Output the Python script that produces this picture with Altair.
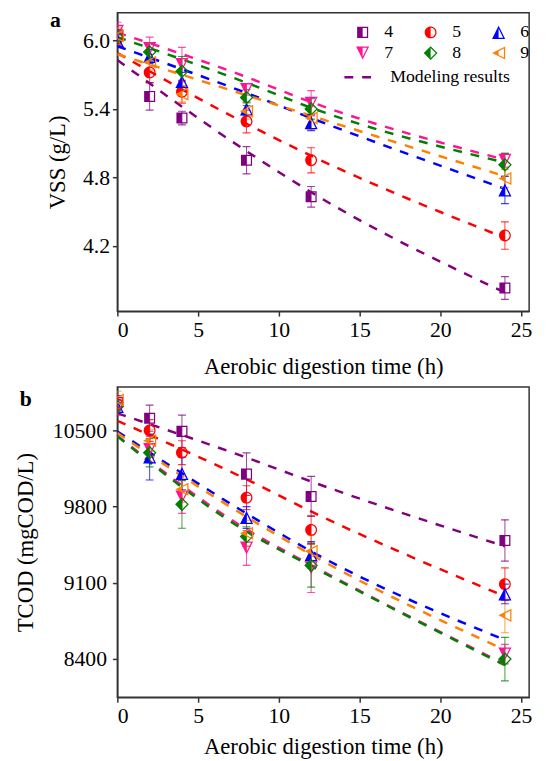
import altair as alt
import pandas as pd

# ---------------- data ----------------
series = ["4", "5", "6", "7", "8", "9"]
colors = ["#800080", "#FF0000", "#0000FF", "#FF1493", "#008000", "#FF8000"]
times = [0, 2, 4, 8, 12, 24]
model_times = [0, 8, 12, 24]

# panel a: VSS (g/L)
vss_4 = [6.05, 5.51, 5.32, 4.95, 4.63, 3.83]
vss_5 = [6.02, 5.72, 5.55, 5.29, 4.95, 4.29]
vss_6 = [6.00, 5.86, 5.64, 5.40, 5.28, 4.69]
vss_7 = [6.08, 5.93, 5.79, 5.57, 5.45, 4.95]
vss_8 = [6.03, 5.90, 5.73, 5.50, 5.40, 4.91]
vss_9 = [6.04, 5.81, 5.53, 5.38, 5.32, 4.79]
vss_err_4 = [0.08, 0.12, 0.06, 0.12, 0.09, 0.10]
vss_err_5 = [0.06, 0.09, 0.10, 0.10, 0.11, 0.12]
vss_err_6 = [0.05, 0.06, 0.08, 0.06, 0.07, 0.12]
vss_err_7 = [0.08, 0.10, 0.15, 0.05, 0.11, 0.06]
vss_err_8 = [0.06, 0.08, 0.13, 0.07, 0.09, 0.10]
vss_err_9 = [0.07, 0.07, 0.07, 0.07, 0.10, 0.08]
vss_model_4 = [5.83, 5.03, 4.67, 3.79]
vss_model_5 = [5.89, 5.27, 4.99, 4.27]
vss_model_6 = [5.95, 5.54, 5.32, 4.70]
vss_model_7 = [6.07, 5.68, 5.46, 4.955]
vss_model_8 = [6.03, 5.63, 5.41, 4.93]
vss_model_9 = [5.88, 5.52, 5.34, 4.81]

# panel b: TCOD (mgCOD/L)
tcod_4 = [10760, 10612, 10491, 10098, 9893, 9488]
tcod_5 = [10740, 10500, 10295, 9881, 9585, 9086]
tcod_6 = [10720, 10255, 10104, 9699, 9358, 8996]
tcod_7 = [10700, 10325, 9887, 9418, 9237, 8443]
tcod_8 = [10720, 10295, 9820, 9524, 9258, 8397]
tcod_9 = [10780, 10406, 9959, 9554, 9388, 8799]
tcod_err_4 = [60, 120, 150, 196, 184, 190]
tcod_err_5 = [60, 100, 110, 110, 130, 150]
tcod_err_6 = [60, 211, 150, 100, 120, 90]
tcod_err_7 = [60, 120, 150, 160, 228, 90]
tcod_err_8 = [60, 130, 220, 90, 200, 200]
tcod_err_9 = [80, 100, 120, 120, 150, 160]
tcod_model_4 = [10657, 10250, 10030, 9434]
tcod_model_5 = [10588, 10050, 9755, 8974]
tcod_model_6 = [10491, 9736, 9388, 8573]
tcod_model_7 = [10450, 9590, 9262, 8350]
tcod_model_8 = [10446, 9570, 9252, 8340]
tcod_model_9 = [10476, 9705, 9358, 8482]

# half-filled marker paths (left half solid, right half outlined)
shape_paths = [
    "M-0.8,-0.8L0.8,-0.8L0.8,0.8L-0.8,0.8ZM0,-0.62L0,0.62L0.62,0.62L0.62,-0.62Z",
    "M0,-0.86A0.86,0.86,0,1,1,0,0.86A0.86,0.86,0,1,1,0,-0.86ZM0,-0.68L0,0.68A0.68,0.68,0,0,0,0,-0.68Z",
    "M0,-0.95L0.95,0.95L-0.95,0.95ZM0,-0.548L0,0.77L0.659,0.77Z",
    "M-0.95,-0.95L0.95,-0.95L0,0.95ZM0,-0.77L0,0.548L0.659,-0.77Z",
    "M0,-1L1,0L0,1L-1,0ZM0,-0.745L0,0.745L0.745,0Z",
    "M-0.95,0L0.95,-0.95L0.95,0.95ZM0,-0.274L0,0.274L0.77,0.659L0.77,-0.659Z",
]

vss_vals = [vss_4, vss_5, vss_6, vss_7, vss_8, vss_9]
vss_errs = [vss_err_4, vss_err_5, vss_err_6, vss_err_7, vss_err_8, vss_err_9]
vss_models = [vss_model_4, vss_model_5, vss_model_6, vss_model_7, vss_model_8, vss_model_9]
tcod_vals = [tcod_4, tcod_5, tcod_6, tcod_7, tcod_8, tcod_9]
tcod_errs = [tcod_err_4, tcod_err_5, tcod_err_6, tcod_err_7, tcod_err_8, tcod_err_9]
tcod_models = [tcod_model_4, tcod_model_5, tcod_model_6, tcod_model_7, tcod_model_8, tcod_model_9]


def point_table(vals, errs):
    rows = []
    for k, s in enumerate(series):
        for t, v, e in zip(times, vals[k], errs[k]):
            rows.append(dict(series=s, order=k, t=t, v=v, lo=v - e, hi=v + e,
                             hex=colors[k], path=shape_paths[k]))
    return pd.DataFrame(rows)


def model_table(models):
    rows = []
    for k, s in enumerate(series):
        for t, v in zip(model_times, models[k]):
            rows.append(dict(series=s, t=t, v=v, hex=colors[k], model="Modeling results"))
    return pd.DataFrame(rows)


FONT = "Liberation Serif"
DASH = [9, 9]


def panel(pts, mdl, ydomain, yticks, yfmt, ytitle, width, height, letter, letter_xy,
          anchor_x, with_legend, ylabpad, ytitlepad, xtitlepad):
    xs = alt.Scale(domain=[0, 25.5], nice=False)
    ys = alt.Scale(domain=ydomain, nice=False, zero=False)
    xax = alt.Axis(values=[0, 5, 10, 15, 20, 25], title="Aerobic digestion time (h)",
                   labelPadding=4, titlePadding=xtitlepad)
    yax = alt.Axis(values=yticks, format=yfmt, title=ytitle, labelPadding=ylabpad,
                   titlePadding=ytitlepad)

    base = alt.Chart(pts)
    X = alt.X("t:Q", scale=xs, axis=xax)

    if with_legend:
        dash_legend = alt.Legend(title=None, orient="none", legendX=229, legendY=49, offset=0,
                                 symbolType="stroke", symbolSize=900, symbolStrokeWidth=2.5,
                                 symbolStrokeColor="#800080", labelOffset=15,
                                 labelFont=FONT, labelFontSize=18, labelColor="black", padding=0)
    else:
        dash_legend = None

    lines = alt.Chart(mdl).mark_line(strokeWidth=2.5, interpolate="monotone", clip=True).encode(
        x=X,
        y=alt.Y("v:Q", scale=ys, axis=yax),
        detail="series:N",
        stroke=alt.Stroke("hex:N", scale=None),
        strokeDash=alt.StrokeDash("model:N", scale=alt.Scale(domain=["Modeling results"], range=[DASH]),
                                  legend=dash_legend),
    )

    rules = base.mark_rule(strokeWidth=1, opacity=0.75, clip=True).encode(
        x=X, y=alt.Y("lo:Q", scale=ys), y2="hi:Q",
        stroke=alt.Stroke("hex:N", scale=None),
    )
    cap_lo = base.mark_tick(orient="horizontal", size=8, thickness=1.2, opacity=0.75, clip=True).encode(
        x=X, y=alt.Y("lo:Q", scale=ys), fill=alt.Fill("hex:N", scale=None),
    )
    cap_hi = base.mark_tick(orient="horizontal", size=8, thickness=1.2, opacity=0.75, clip=True).encode(
        x=X, y=alt.Y("hi:Q", scale=ys), fill=alt.Fill("hex:N", scale=None),
    )

    if with_legend:
        leg = alt.Legend(title=None, orient="none", legendX=240, legendY=11, offset=0, columns=3,
                         direction="horizontal",
                         symbolSize=196, symbolStrokeWidth=0, labelOffset=13,
                         columnPadding=29, rowPadding=3, labelFont=FONT, labelFontSize=18,
                         labelColor="black", padding=0)
        pts_layer = base.mark_point(filled=True, size=196, opacity=1, strokeWidth=0, clip=True).encode(
            x=X, y=alt.Y("v:Q", scale=ys),
            color=alt.Color("series:N", scale=alt.Scale(domain=series, range=colors), legend=leg),
            shape=alt.Shape("series:N", scale=alt.Scale(domain=series, range=shape_paths), legend=leg),
            order="order:Q",
        )
    else:
        pts_layer = base.mark_point(filled=True, size=196, opacity=1, strokeWidth=0, clip=True).encode(
            x=X, y=alt.Y("v:Q", scale=ys),
            fill=alt.Fill("hex:N", scale=None),
            shape=alt.Shape("path:N", scale=None),
            order="order:Q",
        )

    label = alt.Chart(pts).mark_text(text=letter, font=FONT, fontSize=22, fontWeight="bold",
                                     align="center", baseline="middle", color="black").encode(
        x=alt.value(letter_xy[0]), y=alt.value(letter_xy[1])
    ).transform_filter("datum.t == 0 && datum.order == 0")

    anchor = alt.Chart(pts).mark_text(text=".", fontSize=6, color="white", align="left",
                                      baseline="bottom").encode(
        x=alt.value(anchor_x), y=alt.value(height)
    ).transform_filter("datum.t == 0 && datum.order == 0")

    return alt.layer(lines, rules, cap_lo, cap_hi, pts_layer, label, anchor).properties(
        width=width, height=height
    )


pa = panel(point_table(vss_vals, vss_errs), model_table(vss_models), [3.627, 6.244],
           [4.2, 4.8, 5.4, 6.0], ".1f", "VSS (g/L)", 418, 303, "a", (-63, 8), -105, True, 3, 13, 15)
pb = panel(point_table(tcod_vals, tcod_errs), model_table(tcod_models), [8045, 10899],
           [8400, 9100, 9800, 10500], "d", "TCOD (mgCOD/L)", 418, 315, "b", (-93, 12), -105, False,
           6, 15, 9)

chart = alt.vconcat(pa, pb, spacing=7).properties(
    padding={"left": 5, "top": -5, "right": 5, "bottom": 5}
).configure_view(stroke="#333", strokeWidth=1.5).configure_axis(
    grid=False, labelFont=FONT, labelFontSize=22, labelColor="black",
    titleFont=FONT, titleFontSize=23, titleFontWeight="normal", titleColor="black",
    domainColor="#333", domainWidth=1.5, tickColor="#333", tickWidth=1.5, tickSize=5,
).configure_legend(labelFont=FONT)

chart.save("out.html", embed_options={"renderer": "svg", "actions": False})
